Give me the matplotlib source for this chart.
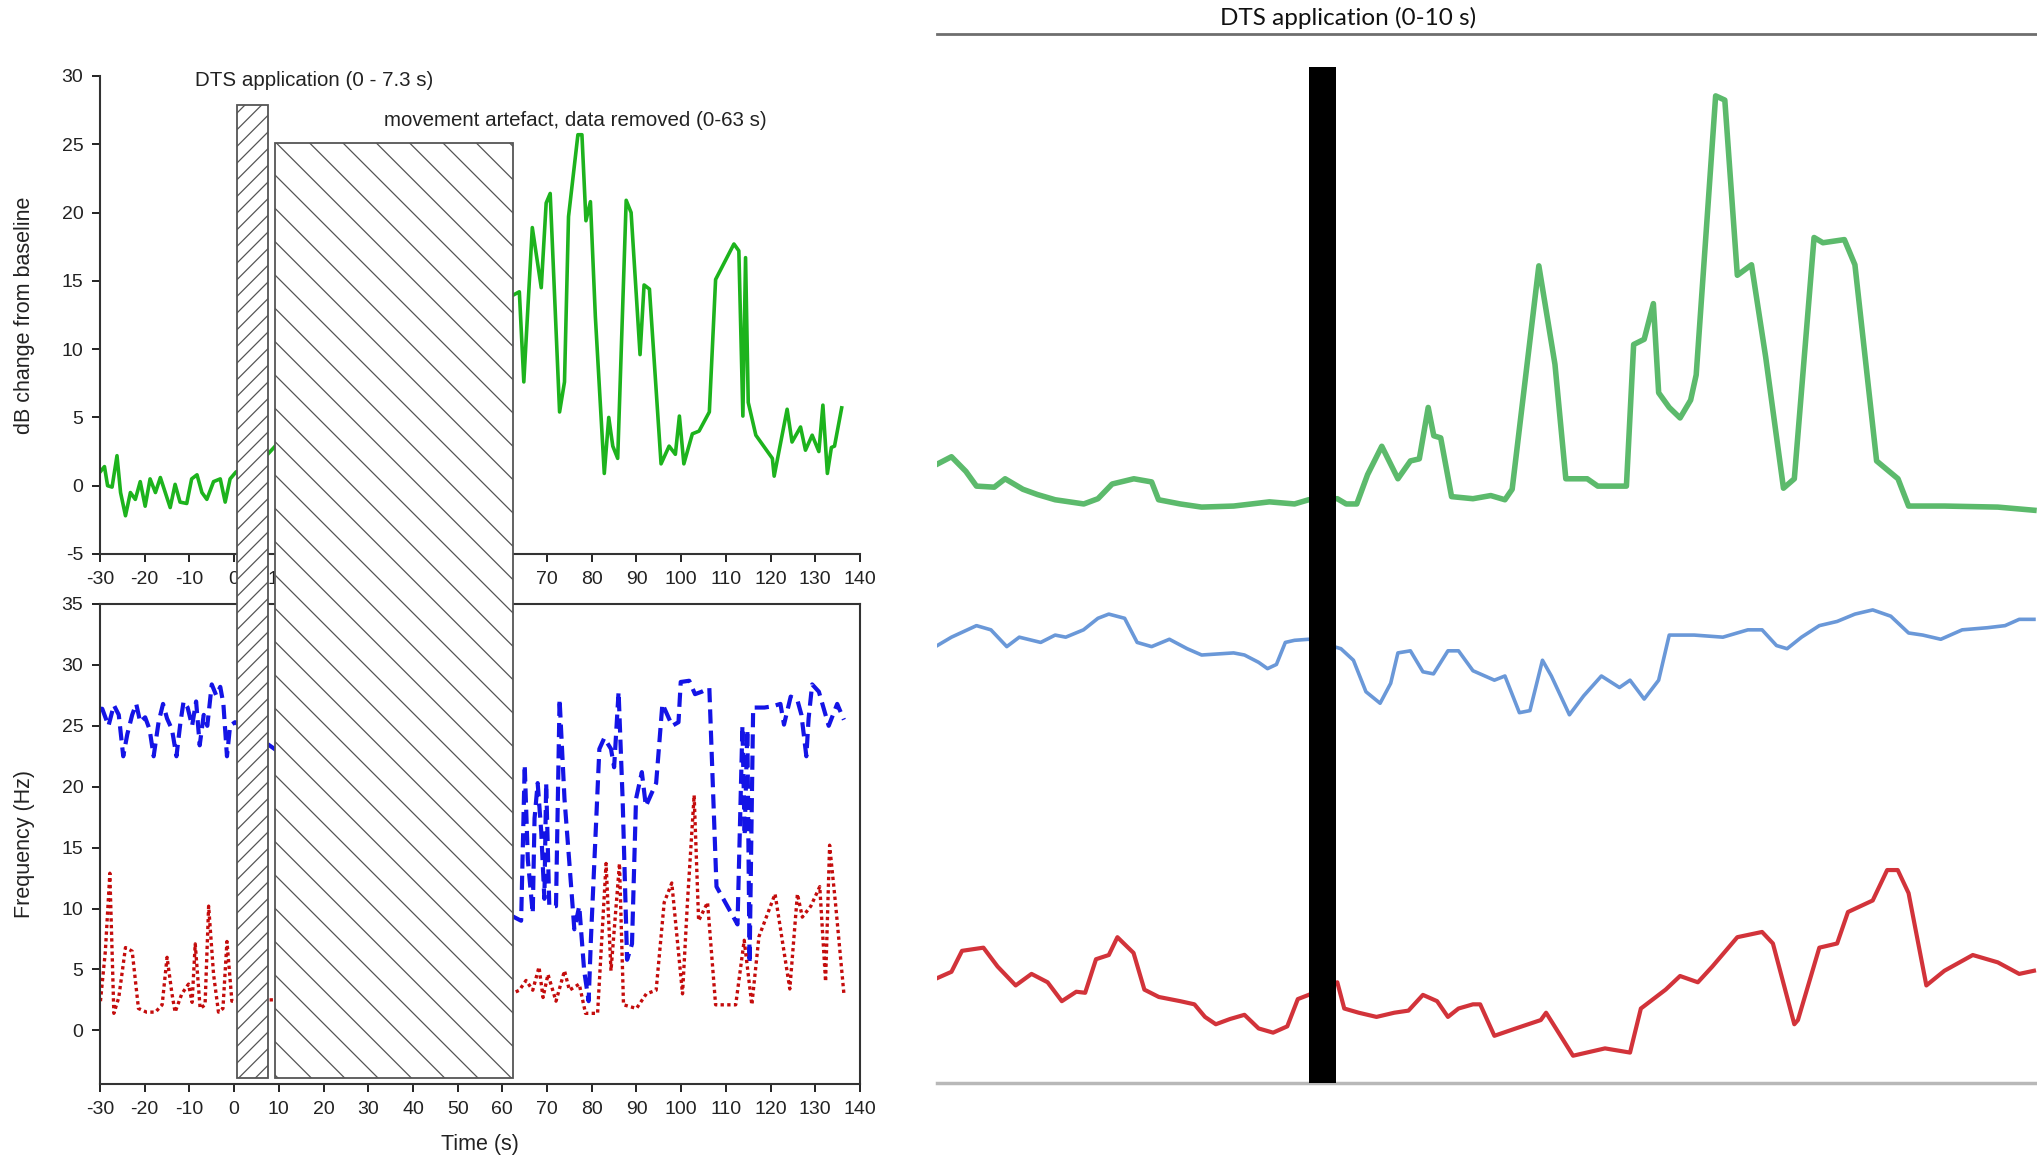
import matplotlib
matplotlib.use("Agg")
import matplotlib.pyplot as plt
from matplotlib.patches import Rectangle

# Left panel: EMG amplitude (dB change from baseline), time in s
green_t = [-30, -29.0, -28.3, -27.3, -26.2, -25.4, -24.3, -23.2, -22.1, -21.0,
           -19.9, -18.8, -17.6, -16.5, -15.4, -14.3, -13.2, -12.1, -10.6, -9.5,
           -8.3, -7.2, -6.1, -4.6, -3.1, -2.0, -0.9, 0.4, 7.5, 9.2,
           62.1, 63.8, 64.8, 66.7, 68.7, 69.8, 70.7, 72.8, 73.9, 74.8,
           76.9, 77.8, 78.7, 79.7, 80.8, 82.8, 83.8, 84.7, 85.8, 87.7,
           88.8, 90.8, 91.7, 92.9, 95.5, 97.3, 98.7, 99.6, 100.6, 102.5,
           104.0, 106.3, 107.7, 111.8, 112.9, 113.8, 114.4, 115.0, 116.7, 120.4,
           120.8, 123.7, 124.8, 126.7, 127.8, 129.3, 130.8, 131.7, 132.7, 133.6,
           134.3, 135.9]
green_db = [1.0, 1.4, 0.0, -0.1, 2.2, -0.5, -2.2, -0.5, -1.0, 0.3,
            -1.5, 0.5, -0.5, 0.6, -0.5, -1.6, 0.1, -1.2, -1.3, 0.5,
            0.8, -0.5, -1.0, 0.3, 0.5, -1.2, 0.5, 1.0, 2.3, 2.9,
            13.9, 14.2, 7.6, 18.9, 14.5, 20.7, 21.4, 5.4, 7.6, 19.7,
            25.7, 25.7, 19.4, 20.8, 12.4, 0.9, 5.0, 2.9, 2.0, 20.9,
            20.0, 9.6, 14.7, 14.4, 1.6, 2.9, 2.3, 5.1, 1.6, 3.8,
            4.0, 5.4, 15.1, 17.7, 17.2, 5.1, 16.7, 6.1, 3.7, 2.0,
            0.7, 5.6, 3.2, 4.3, 2.6, 3.7, 2.5, 5.9, 0.9, 2.8,
            2.9, 5.7]

# Left panel: frequency (Hz), blue = mean, red = lower
blue_t = [-29.9, -29.5, -28.1, -26.9, -25.8, -24.8, -23.9, -22.8, -21.9, -21.0,
          -19.9, -18.9, -18.0, -16.9, -15.9, -15.0, -13.9, -12.9, -12.0, -11.3,
          -10.4, -9.4, -8.5, -7.7, -6.8, -6.0, -5.0, -4.0, -3.1, -2.4,
          -1.6, -0.9, 0.2, 7.5,
          62.1, 64.2, 65.0, 65.7, 66.8, 67.2, 67.9, 68.7, 69.4, 69.8,
          70.5, 72.0, 72.8, 73.9, 75.0, 76.1, 77.2, 78.3, 79.3, 79.8,
          81.7, 82.8, 84.3, 85.0, 86.0, 86.9, 87.9, 89.0, 89.9, 91.2,
          92.1, 94.4, 95.8, 98.0, 99.4, 99.9, 101.8, 103.1, 104.6, 106.3,
          107.9, 112.6, 113.7, 114.2, 114.8, 115.3, 116.1, 118.6, 120.4, 122.2,
          123.0, 124.5, 126.0, 126.9, 128.0, 128.5, 129.3, 130.8, 133.0, 134.9,
          136.4]
blue_hz = [26.4, 26.4, 25.0, 26.7, 25.9, 22.5, 24.3, 25.9, 26.8, 25.3,
           25.7, 24.7, 22.5, 25.3, 26.8, 25.6, 24.7, 22.5, 25.3, 27.0,
           26.5, 25.0, 27.0, 23.4, 25.9, 25.0, 28.4, 27.5, 28.2, 26.8,
           22.5, 25.0, 25.3, 23.5,
           9.4, 9.0, 21.8, 14.0, 9.6, 17.4, 20.3, 16.3, 10.8, 20.3,
           10.2, 10.2, 27.2, 19.0, 13.7, 8.3, 10.2, 4.9, 2.4, 7.4,
           23.1, 24.0, 23.1, 21.6, 27.8, 19.0, 5.8, 7.1, 19.0, 21.2,
           18.4, 20.3, 26.8, 25.0, 25.3, 28.6, 28.7, 27.6, 27.8, 28.1,
           11.8, 8.7, 25.0, 16.0, 24.7, 5.5, 26.5, 26.5, 26.6, 26.8,
           25.1, 27.4, 27.1, 25.9, 22.5, 25.6, 28.4, 27.8, 25.0, 26.8,
           25.5]
red_t = [-29.9, -28.8, -27.8, -26.9, -25.8, -24.3, -22.8, -21.4, -19.6, -17.6,
         -16.1, -15.0, -13.9, -13.2, -11.7, -10.2, -9.4, -8.7, -7.6, -6.5,
         -5.7, -4.6, -3.5, -2.5, -1.6, -0.5, 7.6,
         62.1, 63.8, 65.3, 66.8, 68.2, 69.1, 70.2, 72.0, 73.9, 75.0,
         77.2, 78.6, 81.3, 83.2, 84.3, 86.2, 87.1, 90.0, 92.2, 94.4,
         96.2, 97.9, 100.3, 101.4, 102.9, 103.9, 105.9, 107.7, 112.2, 114.1,
         115.8, 117.4, 121.0, 124.3, 126.0, 127.1, 129.0, 131.0, 132.3, 133.2,
         134.5, 136.4]
red_hz = [2.4, 6.5, 12.9, 1.4, 2.7, 6.8, 6.5, 1.8, 1.5, 1.5,
          2.1, 6.0, 3.0, 1.5, 3.0, 3.8, 2.3, 7.1, 1.8, 2.1,
          10.2, 4.6, 1.5, 1.8, 7.3, 2.4, 2.5,
          3.0, 3.3, 4.1, 3.3, 5.2, 2.7, 4.6, 2.4, 4.9, 3.3,
          3.8, 1.4, 1.4, 13.7, 4.9, 13.7, 2.1, 1.8, 3.0, 3.3,
          10.5, 12.1, 3.0, 10.5, 19.3, 9.0, 10.5, 2.1, 2.1, 7.4,
          2.1, 7.7, 11.2, 3.4, 11.2, 9.3, 10.2, 11.8, 4.0, 15.2,
          10.5, 3.0]

# hatched blocks: (start s, end s, top in dB units)
dts_block = (0.6, 7.5, 27.9)
artefact_block = (9.1, 62.3, 25.1)
block_bottom_hz = -3.9

# Right panel (arbitrary units, time in s, DTS bar 0-10 s)
r_green_t = [-133.6, -128.5, -123.3, -119.5, -113.1, -109.2, -102.8, -97.6, -91.2, -80.9,
             -75.8, -70.7, -62.9, -56.5, -54.0, -46.2, -38.5, -27.0, -14.1, -5.1,
             0.0, 10.3, 13.5, 17.3, 21.2, 26.3, 32.1, 36.6, 39.8, 43.0,
             45.0, 47.5, 51.4, 59.1, 65.5, 70.6, 73.2, 82.8, 88.6, 92.5,
             100.2, 104.0, 114.3, 116.9, 120.7, 124.0, 125.9, 129.7, 133.6, 137.4,
             139.4, 146.4, 149.7, 154.2, 159.3, 164.4, 170.8, 174.7, 181.8, 185.0,
             192.7, 196.5, 204.3, 212.0, 215.8, 228.7, 247.9, 260.9]
r_green = [59.0, 59.7, 58.3, 56.9, 56.8, 57.6, 56.6, 56.1, 55.6, 55.2,
           55.7, 57.1, 57.6, 57.3, 55.6, 55.2, 54.9, 55.0, 55.4, 55.2,
           55.6, 55.7, 55.2, 55.2, 58.0, 60.7, 57.6, 59.3, 59.5, 64.4,
           61.7, 61.5, 55.9, 55.7, 56.0, 55.6, 56.6, 77.9, 68.5, 57.6,
           57.6, 56.9, 56.9, 70.4, 70.9, 74.3, 65.8, 64.4, 63.4, 65.1,
           67.5, 94.1, 93.7, 77.0, 78.0, 69.2, 56.7, 57.6, 80.6, 80.1,
           80.4, 78.0, 59.3, 57.6, 55.0, 55.0, 54.9, 54.6]
r_blue_t = [-133.6, -128.5, -119.5, -114.3, -108.6, -104.1, -96.4, -91.2, -87.4, -81.0,
            -75.8, -71.9, -66.2, -61.7, -56.5, -50.1, -43.7, -38.5, -27.0, -23.1,
            -18.0, -14.8, -11.6, -8.4, -5.1, 0.0, 11.6, 16.1, 20.6, 25.7,
            29.5, 32.1, 36.6, 41.1, 44.9, 50.1, 53.9, 59.1, 66.8, 70.6,
            75.8, 79.6, 84.1, 87.3, 93.8, 98.9, 105.3, 111.8, 115.6, 120.7,
            125.9, 129.7, 138.7, 149.0, 158.0, 163.1, 168.3, 172.1, 177.3, 183.7,
            190.1, 196.5, 202.9, 209.4, 215.8, 220.9, 227.4, 235.1, 244.1, 250.5,
            255.6, 260.9]
r_blue = [41.7, 42.5, 43.6, 43.2, 41.6, 42.5, 42.0, 42.7, 42.5, 43.2,
          44.3, 44.7, 44.3, 42.0, 41.6, 42.3, 41.4, 40.8, 41.0, 40.8,
          40.1, 39.5, 39.9, 42.0, 42.2, 42.3, 41.4, 40.3, 37.3, 36.2,
          38.1, 41.0, 41.2, 39.2, 39.0, 41.2, 41.2, 39.3, 38.4, 38.8,
          35.3, 35.5, 40.3, 38.8, 35.1, 36.9, 38.8, 37.7, 38.4, 36.6,
          38.4, 42.7, 42.7, 42.5, 43.2, 43.2, 41.7, 41.4, 42.5, 43.6,
          44.0, 44.7, 45.1, 44.5, 42.9, 42.7, 42.3, 43.2, 43.4, 43.6,
          44.2, 44.2]
r_red_t = [-133.6, -128.5, -124.7, -117.0, -111.9, -105.4, -99.7, -93.9, -88.8, -83.6,
           -80.4, -76.5, -71.9, -68.8, -63.0, -59.1, -53.9, -46.2, -41.1, -37.3,
           -33.4, -28.3, -23.1, -18.0, -12.8, -7.7, -3.9, 0.0, 10.3, 12.8,
           18.0, 24.4, 30.8, 35.9, 41.1, 46.2, 50.1, 53.9, 59.1, 61.7,
           66.8, 74.5, 83.5, 85.4, 95.1, 106.6, 115.6, 119.5, 128.4, 133.6,
           140.0, 145.2, 154.2, 163.1, 167.0, 174.7, 176.0, 183.7, 190.1, 194.0,
           202.9, 208.1, 211.9, 215.8, 222.2, 228.7, 238.9, 247.9, 255.6, 260.9]
r_red = [10.0, 10.6, 12.6, 12.9, 11.1, 9.3, 10.4, 9.6, 7.8, 8.7,
         8.6, 11.8, 12.2, 13.9, 12.4, 8.9, 8.2, 7.8, 7.5, 6.3,
         5.6, 6.1, 6.5, 5.2, 4.8, 5.4, 8.0, 8.4, 9.6, 7.1,
         6.7, 6.3, 6.7, 6.9, 8.4, 7.8, 6.3, 7.1, 7.5, 7.5,
         4.5, 5.2, 6.0, 6.7, 2.6, 3.3, 2.9, 7.1, 8.9, 10.2,
         9.6, 11.1, 13.9, 14.4, 13.3, 5.6, 6.0, 12.9, 13.3, 16.3,
         17.4, 20.3, 20.3, 18.1, 9.3, 10.7, 12.2, 11.5, 10.4, 10.7]
r_dts = (0, 10)
r_dts_height = 96.9

plt.rcParams['font.family'] = ['Liberation Sans', 'DejaVu Sans']
plt.rcParams['axes.unicode_minus'] = False
plt.rcParams['hatch.linewidth'] = 0.9
plt.rcParams['hatch.color'] = '#555555'

W, H = 2037, 1167
fig = plt.figure(figsize=(W / 100, H / 100), dpi=100)

ax_db = fig.add_axes([100 / W, 1 - 554 / H, 760 / W, 478 / H])
ax_hz = fig.add_axes([100 / W, 1 - 1084 / H, 760 / W, 480 / H])
ax_r = fig.add_axes([937 / W, 1 - 1083 / H, 1100 / W, 1049 / H])

axis_col = '#333333'
for ax in (ax_db, ax_hz):
    ax.set_xlim(-30, 140)
    ax.set_xticks(range(-30, 141, 10))
    ax.tick_params(direction='out', length=6, width=1.4, labelsize=14,
                   colors='#222222', pad=6)
    for sp in ax.spines.values():
        sp.set_linewidth(1.5)
        sp.set_color(axis_col)

# top: dB change
ax_db.plot(green_t, green_db, color='#1db31d', lw=2.6)
ax_db.set_ylim(-5, 30)
ax_db.set_yticks(range(-5, 31, 5))
ax_db.spines[['top', 'right']].set_visible(False)
ax_db.set_ylabel('dB change from baseline', fontsize=15.5, color='#222222')
ax_db.yaxis.set_label_coords(-0.085, 0.5)
ax_db.set_facecolor('none')
ax_db.set_zorder(2)

# bottom: frequency
ax_hz.plot(blue_t, blue_hz, color='#1414e6', lw=3.0, linestyle=(0, (3.4, 1.7)))
ax_hz.plot(red_t, red_hz, color='#c40c0c', lw=2.4, linestyle=(0, (1, 1.0)))
ax_hz.set_ylim(-4.4, 35)
ax_hz.set_yticks(range(0, 36, 5))
ax_hz.set_ylabel('Frequency (Hz)', fontsize=15.5, color='#222222')
ax_hz.yaxis.set_label_coords(-0.085, 0.5)
ax_hz.set_xlabel('Time (s)', fontsize=15.5, color='#222222', labelpad=12)

# hatched blocks spanning both panels
low_disp = ax_hz.transData.transform((0, block_bottom_hz))
low_db = ax_db.transData.inverted().transform(low_disp)[1]
for (x0, x1, top), hatch in ((dts_block, '//'), (artefact_block, '\\')):
    ax_db.add_patch(Rectangle((x0, low_db), x1 - x0, top - low_db,
                              facecolor='white', edgecolor='#555555', lw=1.3,
                              hatch=hatch, clip_on=False, zorder=6))

fig.text(314 / W, 1 - 81 / H, 'DTS application (0 - 7.3 s)', ha='center',
         va='center', fontsize=14.8, color='#222222')
fig.text(575 / W, 1 - 120 / H, 'movement artefact, data removed (0-63 s)',
         ha='center', va='center', fontsize=14.8, color='#222222')

# right panel
ax_r.plot(r_green_t, r_green, color='#5cba6c', lw=4.0, solid_joinstyle='round')
ax_r.plot(r_blue_t, r_blue, color='#6a98d8', lw=2.6, solid_joinstyle='round')
ax_r.plot(r_red_t, r_red, color='#d2333a', lw=3.0, solid_joinstyle='round')
ax_r.bar((r_dts[0] + r_dts[1]) / 2, r_dts_height, width=r_dts[1] - r_dts[0],
         color='black', zorder=5)
ax_r.set_xlim(-133.7, 262)
ax_r.set_ylim(0, 100)
ax_r.set_xticks([])
ax_r.set_yticks([])
ax_r.spines[['left', 'right']].set_visible(False)
ax_r.spines['top'].set_color('#6e6e6e')
ax_r.spines['top'].set_linewidth(2.0)
ax_r.spines['bottom'].set_color('#b8b8b8')
ax_r.spines['bottom'].set_linewidth(2.5)
ax_r.text(0.3736, 1.0153, 'DTS application (0-10 s)', transform=ax_r.transAxes,
          ha='center', va='center', fontsize=17.5, family=['Lato', 'DejaVu Sans'],
          color='#111111')

fig.savefig('out.png', dpi=100, facecolor='white')
